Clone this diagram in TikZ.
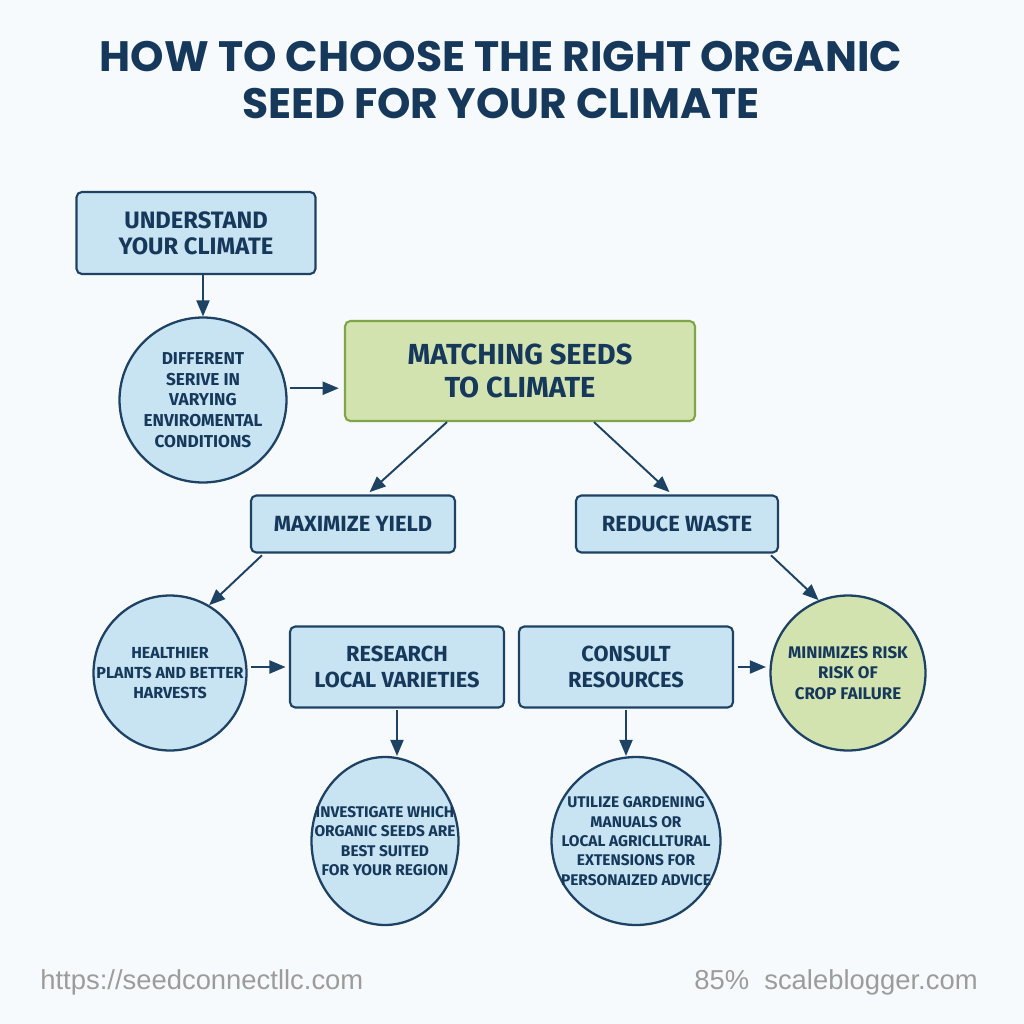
\documentclass[tikz,border=0pt]{standalone}
\usepackage{fontspec}
\setmainfont{Fira Sans}
\newfontfamily\titlefont{Poppins}
\newfontfamily\footfont{Liberation Sans}
\usetikzlibrary{shapes,arrows,positioning}
\definecolor{navy}{HTML}{15385B}
\definecolor{edgeline}{HTML}{1E4264}
\definecolor{skyfill}{HTML}{C8E3F1}
\definecolor{leaffill}{HTML}{D3E3B0}
\definecolor{leafline}{HTML}{7FA548}
\definecolor{paper}{HTML}{F7FAFC}
\definecolor{footgray}{HTML}{9C9C9C}
\tikzset{box/.style={rectangle,rounded corners=3pt,fill=skyfill,draw=edgeline,line width=1.2pt,
align=center,text=navy,font=\bfseries},
oval/.style={ellipse,fill=skyfill,draw=edgeline,line width=1.3pt,inner sep=0pt},
ovaltext/.style={align=center,text=navy,inner sep=0pt},
greenbox/.style={box,fill=leaffill,draw=leafline},
greenoval/.style={oval,fill=leaffill},
link/.style={->,draw=edgeline,line width=1.1pt},
>={triangle 45}}

\begin{document}
\begin{tikzpicture}[x=0.02cm,y=-0.02cm]
  \fill[paper] (0,0) rectangle (1024,1024);
  \useasboundingbox (0,0) rectangle (1024,1024);
  \node (title) at (501,80) [text=navy,align=center,font=\titlefont\bfseries\fontsize{24.2}{26.5}\selectfont]
    {HOW TO CHOOSE THE RIGHT ORGANIC\\SEED FOR YOUR CLIMATE};
  \node (und) at (196,233) [box,minimum width=4.78cm,minimum height=1.64cm,font=\bfseries\fontsize{13.5}{14.6}\selectfont]
    {UNDERSTAND\\YOUR CLIMATE};
  \node (diff) at (203,400) [oval,minimum width=3.34cm,minimum height=3.3cm,
    label={[ovaltext,font=\bfseries\fontsize{9.8}{11.8}\selectfont]center:{DIFFERENT\\SERIVE IN\\VARYING\\ENVIROMENTAL\\CONDITIONS}}] {};
  \node (match) at (520,371) [greenbox,minimum width=7cm,minimum height=2cm,font=\bfseries\fontsize{16.5}{19}\selectfont]
    {MATCHING SEEDS\\TO CLIMATE};
  \node (max) at (353,524) [box,minimum width=4.08cm,minimum height=1.14cm,font=\bfseries\fontsize{12.5}{14}\selectfont]
    {MAXIMIZE YIELD};
  \node (red) at (677,524) [box,minimum width=4.04cm,minimum height=1.14cm,font=\bfseries\fontsize{12.5}{14}\selectfont]
    {REDUCE WASTE};
  \node (health) at (170,673) [oval,minimum width=3.06cm,minimum height=3.1cm,
    label={[ovaltext,font=\bfseries\fontsize{9.1}{11.4}\selectfont]center:{HEALTHIER\\PLANTS AND BETTER\\HARVESTS}}] {};
  \node (research) at (397,667) [box,minimum width=4.28cm,minimum height=1.62cm,font=\bfseries\fontsize{12.4}{14.6}\selectfont]
    {RESEARCH\\LOCAL VARIETIES};
  \node (consult) at (626,667) [box,minimum width=4.28cm,minimum height=1.62cm,font=\bfseries\fontsize{12.4}{14.6}\selectfont]
    {CONSULT\\RESOURCES};
  \node (minim) at (848,673) [greenoval,minimum width=3.1cm,minimum height=3.1cm,
    label={[ovaltext,font=\bfseries\fontsize{9.6}{11.8}\selectfont]center:{MINIMIZES RISK\\RISK OF\\CROP FAILURE}}] {};
  \node (invest) at (385,841) [oval,minimum width=2.94cm,minimum height=3.36cm,
    label={[ovaltext,font=\bfseries\fontsize{8.8}{11}\selectfont]center:{INVESTIGATE WHICH\\ORGANIC SEEDS ARE\\BEST SUITED\\FOR YOUR REGION}}] {};
  \node (util) at (636,841) [oval,minimum width=3.38cm,minimum height=3.36cm,
    label={[ovaltext,font=\bfseries\fontsize{8.8}{11}\selectfont]center:{UTILIZE GARDENING\\MANUALS OR\\LOCAL AGRICLLTURAL\\EXTENSIONS FOR\\PERSONAIZED ADVICE}}] {};
  \node (site) at (40,982) [anchor=west,inner sep=0pt,text=footgray,font=\footfont\fontsize{15.6}{18}\selectfont]
    {https://seedconnectllc.com};
  \node (brand) at (978,982) [anchor=east,inner sep=0pt,text=footgray,font=\footfont\fontsize{15.6}{18}\selectfont]
    {85\%\ \ scaleblogger.com};
  \draw [link] (und.south -| diff.north) -- (diff.north);
  \draw [link,shorten <=2pt,shorten >=3pt] (diff.8) -- (diff.8 -| match.west);
  \draw [link,shorten >=2pt] ([xshift=-1.46cm]match.south) -- ([xshift=0.28cm]max.north);
  \draw [link,shorten >=2pt] ([xshift=1.48cm]match.south) -- ([xshift=-0.1cm]red.north);
  \draw [link] ([xshift=0.24cm,yshift=-1pt]max.south west) -- (health.60);
  \draw [link] ([xshift=-0.16cm,yshift=-1pt]red.south east) -- (minim.112);
  \draw [link,shorten <=2pt,shorten >=2pt] (health.east |- research) -- (research.west);
  \draw [link,shorten <=2pt,shorten >=2pt] (consult.east) -- (consult.east -| minim.west);
  \draw [link,shorten <=1pt] (research.south) -- (research.south |- invest.north);
  \draw [link,shorten <=1pt] (consult.south) -- (consult.south |- util.north);
\end{tikzpicture}
\end{document}
